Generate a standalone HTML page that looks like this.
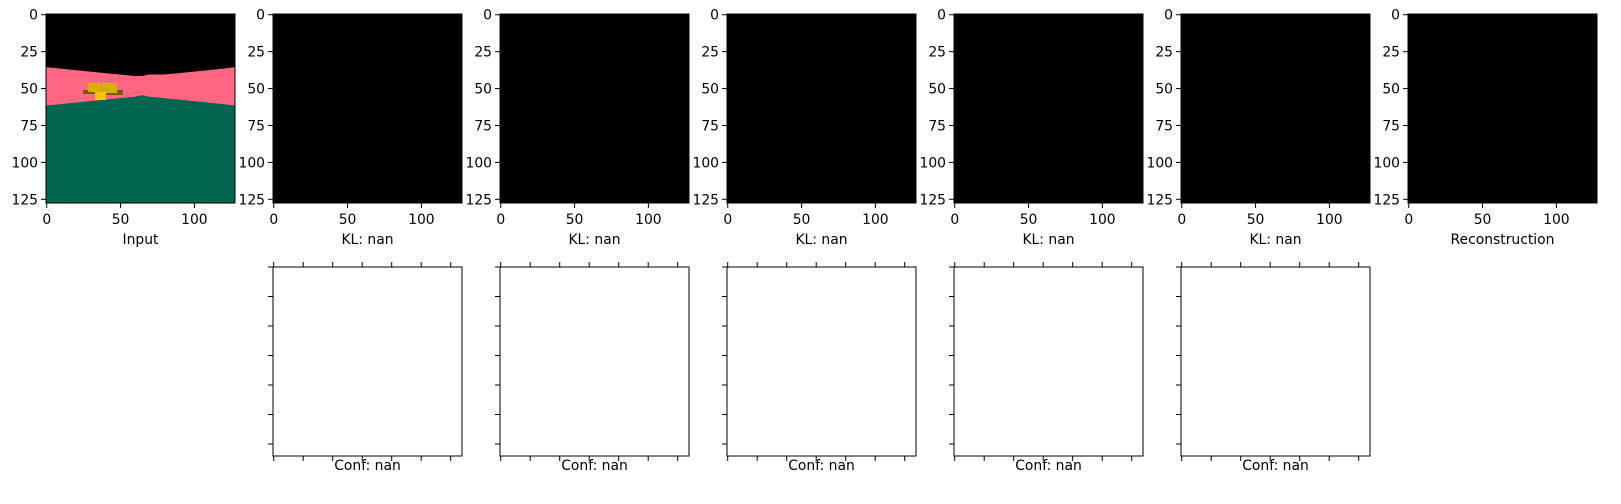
<!DOCTYPE html>
<html><head><meta charset="utf-8"><style>
body{margin:0;background:#fff;width:1621px;height:499px;overflow:hidden}
svg text{font-family:"DejaVu Sans","Liberation Sans",sans-serif;font-size:13.9px;fill:#000}
</style></head><body>
<svg id="fig" width="1621" height="499" viewBox="0 0 1621 499" xmlns="http://www.w3.org/2000/svg"></svg>
<script>
const topTitles = ["Input","KL: nan","KL: nan","KL: nan","KL: nan","KL: nan","Reconstruction"];
const bottomTitles = ["Conf: nan","Conf: nan","Conf: nan","Conf: nan","Conf: nan"];
const imgTicks = [0,25,50,75,100,125];
const xImgTicks = [0,50,100];
const pinkTopX = [0,10,20,30,40,50,60,65,70,80,90,100,110,120,128];
const pinkTopY = [36,37,38,39,40,41,42,42,41,41,40,39,38,37,36];
const greenTopY = [62,61,60,59,58,57,56,55,56,57,58,59,60,61,62];
const emptyTicks = [0,1,2,3,4,5,6];

const NS="http://www.w3.org/2000/svg";
const svg=document.getElementById('fig');
function mk(tag,attrs,parent){const e=document.createElementNS(NS,tag);for(const k in attrs)e.setAttribute(k,attrs[k]);(parent||svg).appendChild(e);return e;}
const SIZE=189, X0=46, STEP=227, TOPY=14, BOTY=267;
const ppu=SIZE/128;
function sx(x0,v){return x0+(v+0.5)*ppu;}
function sy(y0,v){return y0+(v+0.5)*ppu;}

for(let i=0;i<7;i++){
  const x0=X0+i*STEP, y0=TOPY;
  const g=mk('g',{});
  
  
  mk('rect',{x:x0,y:y0,width:SIZE,height:SIZE,fill:'#000'},g);
  if(i===0){
    let p='';
    for(let k=0;k<pinkTopX.length;k++){p+=(k?'L':'M')+sx(x0,pinkTopX[k]-0.5)+','+sy(y0,pinkTopY[k]-0.5)+' ';}
    p+='L'+(x0+SIZE)+','+(y0+SIZE)+' L'+x0+','+(y0+SIZE)+' Z';
    const pk=mk('path',{d:p,fill:'#ff6680'},g);
    
    
    let q='';
    for(let k=0;k<pinkTopX.length;k++){q+=(k?'L':'M')+sx(x0,pinkTopX[k]-0.5)+','+sy(y0,greenTopY[k]-0.5)+' ';}
    q+='L'+(x0+SIZE)+','+(y0+SIZE)+' L'+x0+','+(y0+SIZE)+' Z';
    const gr=mk('path',{d:q,fill:'#00664f'},g);
    
    
    const obj=mk('g',{},g);
    
    
    mk('rect',{x:83,y:90,width:18,height:4,fill:'#7a5a00'},obj);
    mk('rect',{x:103,y:90,width:20,height:5,fill:'#7a5a00'},obj);
    mk('rect',{x:88,y:83,width:13,height:9,fill:'#d8b000'},obj);
    mk('rect',{x:102,y:83,width:15,height:10,fill:'#d8b000'},obj);
    mk('rect',{x:95,y:92,width:11,height:8,fill:'#f5c800'},obj);
  }
  mk('rect',{x:x0,y:y0,width:SIZE,height:SIZE,fill:'none',stroke:'#000','stroke-width':1},g);
  imgTicks.forEach(v=>{const y=sy(y0,v);mk('line',{x1:x0-5,x2:x0,y1:y,y2:y,stroke:'#000'},g);
    const t=mk('text',{x:x0-8,y:y+5,'text-anchor':'end'},g);t.textContent=v;});
  xImgTicks.forEach(v=>{const x=sx(x0,v);mk('line',{x1:x,x2:x,y1:y0+SIZE,y2:y0+SIZE+5,stroke:'#000'},g);
    const t=mk('text',{x:x,y:y0+SIZE+21,'text-anchor':'middle'},g);t.textContent=v;});
  const tt=mk('text',{x:x0+SIZE/2,y:y0+SIZE+41,'text-anchor':'middle'},g);
  
  
  tt.textContent=topTitles[i];
}
for(let j=0;j<5;j++){
  const x0=X0+(j+1)*STEP, y0=BOTY;
  const g=mk('g',{});
  
  
  mk('rect',{x:x0,y:y0,width:SIZE,height:SIZE,fill:'#fff',stroke:'#000','stroke-width':1},g);
  emptyTicks.forEach(k=>{
    const x=x0+0.7+k*29.5, y=y0+k*29.5;
    mk('line',{x1:x,x2:x,y1:y0,y2:y0-5,stroke:'#000'},g);
    mk('line',{x1:x,x2:x,y1:y0+SIZE,y2:y0+SIZE+5,stroke:'#000'},g);
    mk('line',{x1:x0-5,x2:x0,y1:y,y2:y,stroke:'#000'},g);
  });
  const tt=mk('text',{x:x0+SIZE/2,y:y0+SIZE+14,'text-anchor':'middle'},g);
  
  
  tt.textContent=bottomTitles[j];
}
</script>
</body></html>
